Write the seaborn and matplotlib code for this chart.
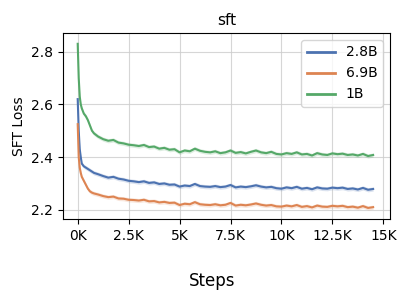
import pandas as pd
import seaborn as sns
import matplotlib.pyplot as plt
from matplotlib.ticker import FuncFormatter

steps = [0, 50, 100, 150, 200, 300, 400, 500, 600, 700, 800, 1000,
         1250, 1500, 1750, 2000, 2250, 2500, 2750, 3000, 3250, 3500,
         3750, 4000, 4250, 4500, 4750, 5000, 5250, 5500, 5750, 6000,
         6250, 6500, 6750, 7000, 7250, 7500, 7750, 8000, 8250, 8500,
         8750, 9000, 9250, 9500, 9750, 10000, 10250, 10500, 10750, 11000,
         11250, 11500, 11750, 12000, 12250, 12500, 12750, 13000, 13250, 13500,
         13750, 14000, 14250, 14500]

loss_2_8b = [2.62, 2.50, 2.43, 2.40, 2.375, 2.365, 2.36, 2.355, 2.35, 2.345, 2.34, 2.335,
             2.328, 2.322, 2.325, 2.318, 2.315, 2.31, 2.308, 2.305, 2.308, 2.302,
             2.304, 2.298, 2.300, 2.295, 2.296, 2.288, 2.292, 2.290, 2.298, 2.290,
             2.288, 2.287, 2.290, 2.286, 2.288, 2.294, 2.285, 2.288, 2.286, 2.289,
             2.293, 2.288, 2.285, 2.287, 2.282, 2.280, 2.285, 2.282, 2.287, 2.280,
             2.283, 2.278, 2.285, 2.281, 2.280, 2.284, 2.282, 2.284, 2.279, 2.281,
             2.277, 2.283, 2.276, 2.279]

loss_6_9b = [2.525, 2.40, 2.36, 2.34, 2.325, 2.31, 2.295, 2.28, 2.27, 2.265, 2.262, 2.258,
             2.252, 2.248, 2.250, 2.243, 2.242, 2.238, 2.237, 2.235, 2.238, 2.232,
             2.233, 2.228, 2.230, 2.226, 2.227, 2.218, 2.223, 2.221, 2.229, 2.221,
             2.219, 2.218, 2.221, 2.217, 2.219, 2.226, 2.216, 2.219, 2.217, 2.220,
             2.224, 2.219, 2.216, 2.218, 2.213, 2.212, 2.216, 2.213, 2.218, 2.211,
             2.214, 2.209, 2.216, 2.212, 2.211, 2.215, 2.213, 2.215, 2.210, 2.212,
             2.208, 2.214, 2.207, 2.210]

loss_1b = [2.83, 2.70, 2.63, 2.60, 2.585, 2.565, 2.555, 2.54, 2.52, 2.50, 2.49, 2.478,
           2.468, 2.462, 2.465, 2.455, 2.452, 2.447, 2.445, 2.442, 2.446, 2.438,
           2.440, 2.432, 2.435, 2.428, 2.430, 2.418, 2.425, 2.422, 2.432, 2.424,
           2.420, 2.418, 2.422, 2.415, 2.418, 2.425, 2.416, 2.419, 2.414, 2.420,
           2.425, 2.418, 2.415, 2.420, 2.412, 2.410, 2.415, 2.412, 2.418, 2.410,
           2.412, 2.406, 2.415, 2.410, 2.408, 2.414, 2.411, 2.413, 2.408, 2.410,
           2.406, 2.412, 2.404, 2.408]

models = ["2.8B", "6.9B", "1B"]
series = {"2.8B": loss_2_8b, "6.9B": loss_6_9b, "1B": loss_1b}

rows = []
for m in models:
    for s, v in zip(steps, series[m]):
        rows.append({"step": s, "loss": v, "model": m})
df = pd.DataFrame(rows)

palette = sns.color_palette("deep", 3)

fig = plt.figure(figsize=(4.08, 3.0), dpi=100)
ax = fig.add_axes([0.154, 0.27, 0.802, 0.62])

# faint band behind each smoothed line
for m, c in zip(models, palette):
    vals = pd.Series(series[m])
    ax.fill_between(steps, vals - 0.008, vals + 0.008, color=c, alpha=0.2, lw=0)

sns.lineplot(data=df, x="step", y="loss", hue="model", hue_order=models,
             palette=palette, linewidth=1.5, ax=ax)

ax.grid(True, color="#cccccc", linewidth=0.8, alpha=0.8)
ax.set_axisbelow(True)
ax.set_xticks([0, 2500, 5000, 7500, 10000, 12500, 15000])
ax.xaxis.set_major_formatter(FuncFormatter(lambda x, p: f"{x / 1000:g}K"))
ax.set_yticks([2.2, 2.4, 2.6, 2.8])
ax.set_xlim(-730, 15330)
ax.set_ylim(2.165, 2.871)
ax.set_title("sft", fontsize=11)
ax.set_ylabel("SFT Loss", fontsize=10)
ax.set_xlabel("")
ax.tick_params(labelsize=10)
fig.text(0.52, 0.045, "Steps", ha="center", fontsize=12)

leg = ax.legend(loc="upper right", fontsize=10)
for line in leg.get_lines():
    line.set_linewidth(2)

fig.savefig("out.png", dpi=100)
